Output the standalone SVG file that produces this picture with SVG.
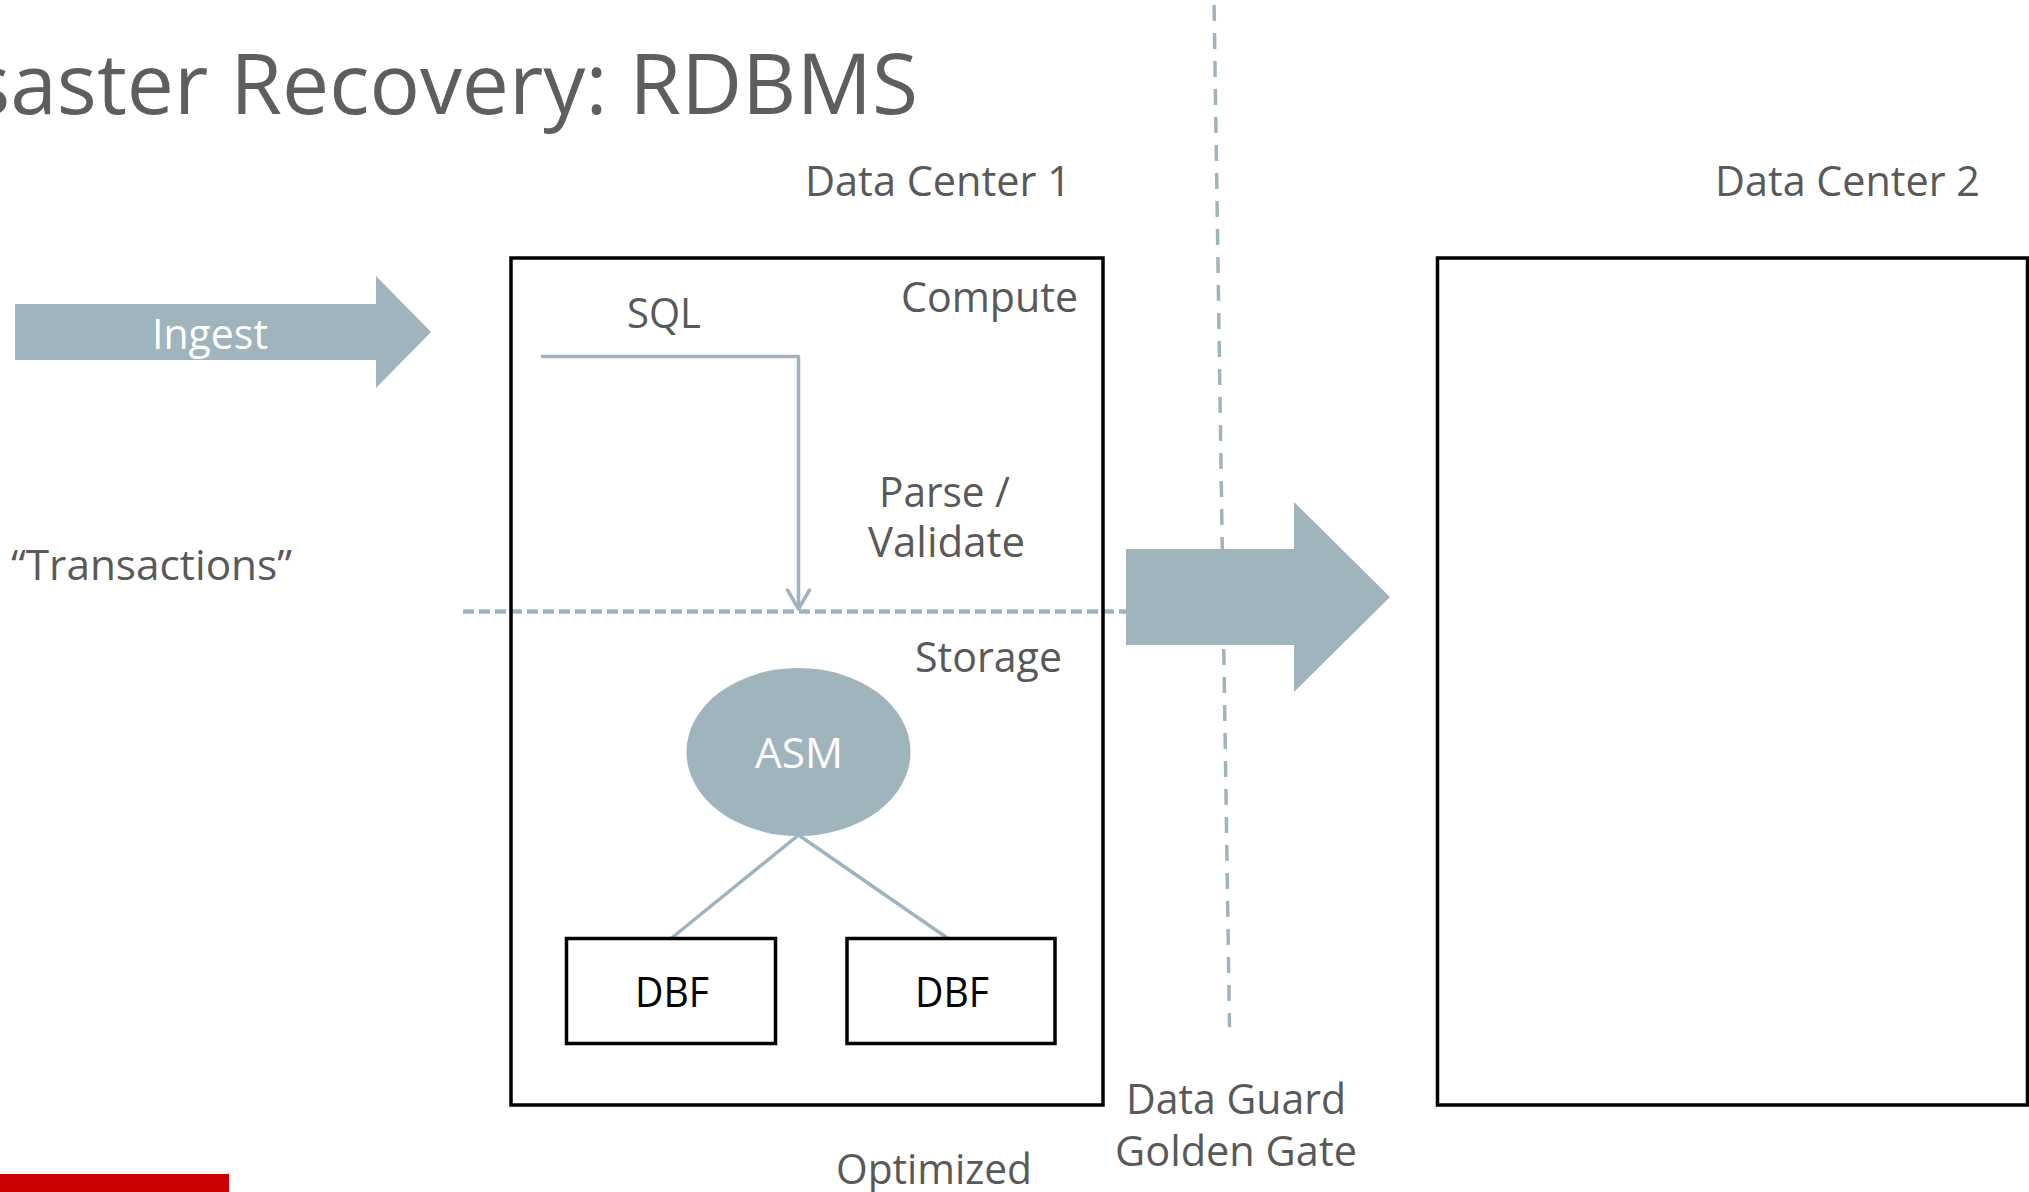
<svg xmlns="http://www.w3.org/2000/svg" width="2029" height="1192" viewBox="0 0 2029 1192">
  <style>
    text { font-family: "Open Sans", "Liberation Sans", sans-serif; }
    .title { font-size: 84px; fill: #5E5E5E; }
    .label { font-size: 42px; fill: #595959; }
    .light { font-size: 42px; fill: #FFFFFF; }
    .dark { font-size: 42px; fill: #000000; }
    .frame { fill: none; stroke: #000000; stroke-width: 3.5; }
    .file { fill: #FFFFFF; stroke: #000000; stroke-width: 3.5; }
    .shape { fill: #A0B4BE; stroke: none; }
    .link { fill: none; stroke: #A0B4BE; stroke-width: 3.5; stroke-linejoin: round; }
    .tier { fill: none; stroke: #A0B4BE; stroke-width: 4.5; stroke-dasharray: 11 5; }
    .site { fill: none; stroke: #A0B4BE; stroke-width: 3.5; stroke-dasharray: 16 12; stroke-dashoffset: -5; }
  </style>
  <defs>
    <marker id="open-head" markerUnits="userSpaceOnUse" viewBox="-25 -15 30 30" refX="0" refY="0" markerWidth="30" markerHeight="30" orient="auto" overflow="visible">
      <path d="M-19,-11 L0,0 L-19,11" fill="none" stroke="#A0B4BE" stroke-width="3.5" stroke-linejoin="round" stroke-linecap="round"/>
    </marker>
  </defs>

  <!-- page title -->
  <g id="title">
    <text class="title" x="918" y="114" text-anchor="end" textLength="1030" lengthAdjust="spacingAndGlyphs">Disaster Recovery: RDBMS</text>
  </g>

  <!-- site captions -->
  <g id="dc1-caption">
    <text class="label" x="805" y="196" textLength="266" lengthAdjust="spacingAndGlyphs">Data Center 1</text>
  </g>
  <g id="dc2-caption">
    <text class="label" x="1715" y="196" textLength="265" lengthAdjust="spacingAndGlyphs">Data Center 2</text>
  </g>

  <!-- connectors -->
  <g id="connectors">
    <line class="site" x1="1214" y1="0" x2="1229.5" y2="1027"/>
    <line class="tier" x1="463" y1="611.5" x2="1126" y2="611.5"/>
    <path class="link" d="M541,356.5 H798.5 V609" marker-end="url(#open-head)"/>
    <line class="link" x1="798.5" y1="835" x2="671" y2="938.5"/>
    <line class="link" x1="798.5" y1="835" x2="948" y2="938.5"/>
  </g>

  <!-- ingest arrow -->
  <g id="ingest">
    <polygon class="shape" points="15,304 376,304 376,276 431,332 376,388 376,360 15,360"/>
    <text class="light" x="152" y="349" textLength="116" lengthAdjust="spacingAndGlyphs">Ingest</text>
  </g>

  <g id="transactions">
    <text class="label" x="11" y="580" textLength="281" lengthAdjust="spacingAndGlyphs">“Transactions”</text>
  </g>

  <!-- data center 1 -->
  <g id="data-center-1">
    <rect class="frame" x="511" y="258" width="592" height="847"/>
  </g>
  <g id="sql">
    <text class="label" x="627" y="328" textLength="74" lengthAdjust="spacingAndGlyphs">SQL</text>
  </g>
  <g id="compute">
    <text class="label" x="901" y="312" textLength="177" lengthAdjust="spacingAndGlyphs">Compute</text>
  </g>
  <g id="parse-validate">
    <text class="label" x="879" y="507" textLength="131" lengthAdjust="spacingAndGlyphs">Parse /</text>
    <text class="label" x="868" y="557" textLength="157" lengthAdjust="spacingAndGlyphs">Validate</text>
  </g>
  <g id="storage">
    <text class="label" x="915" y="672" textLength="147" lengthAdjust="spacingAndGlyphs">Storage</text>
  </g>
  <g id="asm">
    <ellipse class="shape" cx="798.5" cy="752" rx="112" ry="84"/>
    <text class="light" x="755" y="768" textLength="88" lengthAdjust="spacingAndGlyphs">ASM</text>
  </g>
  <g id="dbf-1">
    <rect class="file" x="566.5" y="938.5" width="209" height="105"/>
    <text class="dark" x="635" y="1007" textLength="74" lengthAdjust="spacingAndGlyphs">DBF</text>
  </g>
  <g id="dbf-2">
    <rect class="file" x="847" y="938.5" width="208" height="105"/>
    <text class="dark" x="915" y="1007" textLength="74" lengthAdjust="spacingAndGlyphs">DBF</text>
  </g>

  <!-- replication arrow -->
  <g id="replication">
    <polygon class="shape" points="1126,549 1294,549 1294,502 1390,597 1294,692 1294,645 1126,645"/>
  </g>
  <g id="replication-caption">
    <text class="label" x="1126" y="1114" textLength="220" lengthAdjust="spacingAndGlyphs">Data Guard</text>
    <text class="label" x="1115" y="1166" textLength="242" lengthAdjust="spacingAndGlyphs">Golden Gate</text>
  </g>
  <g id="optimized">
    <text class="label" x="836" y="1184" textLength="196" lengthAdjust="spacingAndGlyphs">Optimized</text>
  </g>

  <!-- data center 2 -->
  <g id="data-center-2">
    <rect class="frame" x="1437.5" y="258" width="590" height="847"/>
  </g>

  <!-- footer accent -->
  <g id="footer-bar">
    <rect x="0" y="1174" width="229" height="18" fill="#CC0000"/>
  </g>
</svg>
